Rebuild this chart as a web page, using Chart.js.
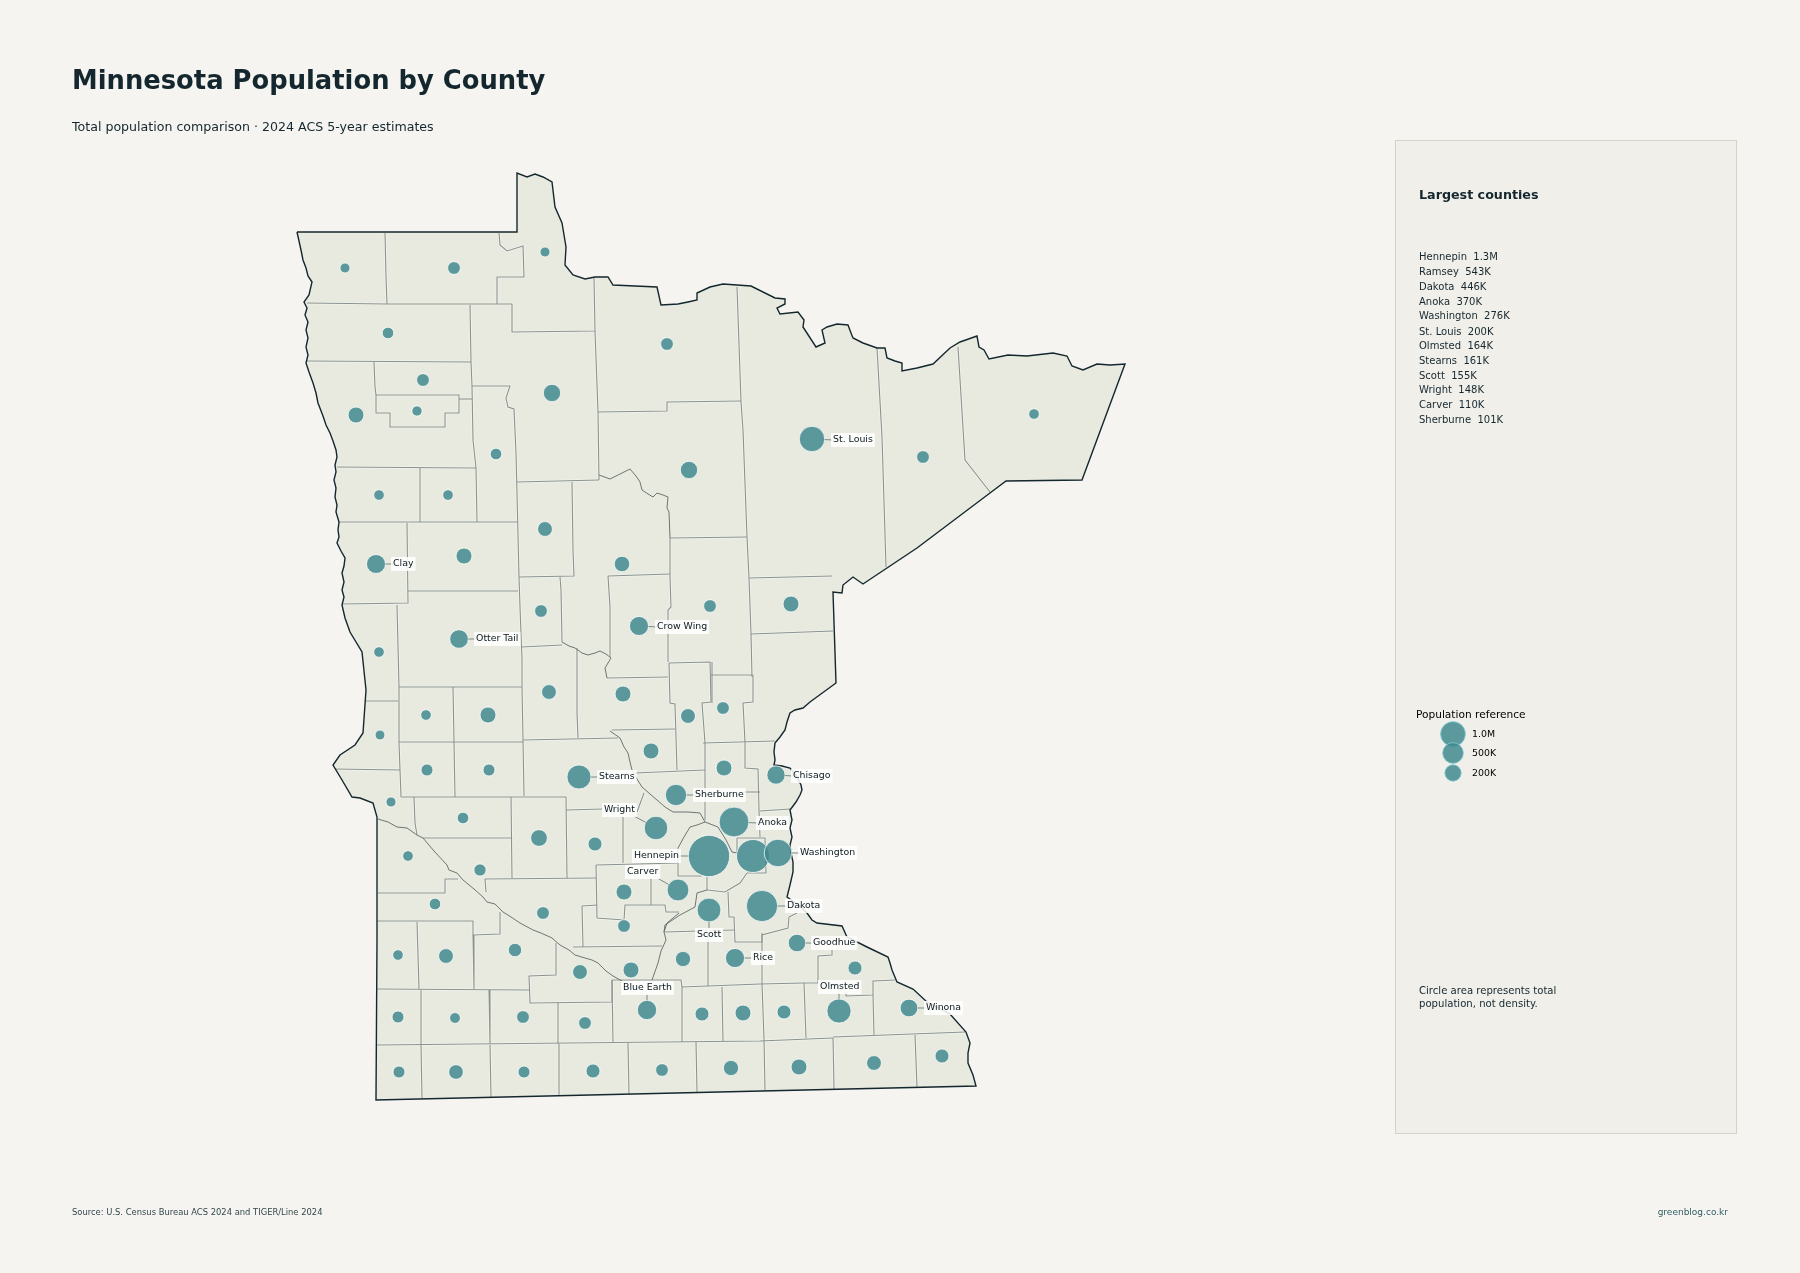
<!DOCTYPE html>
<html>
<head>
<meta charset="utf-8">
<title>Minnesota Population by County</title>
<script src="https://cdn.jsdelivr.net/npm/chart.js@4"></script>
<style>
  html,body{margin:0;padding:0;background:#f5f4f0;}
  body{width:1800px;height:1273px;position:relative;overflow:hidden;font-family:"DejaVu Sans",sans-serif;color:#14272e;}
  canvas{position:absolute;left:0;top:0;z-index:2;}
  .t{position:absolute;white-space:pre;line-height:1;z-index:3;}
  #panel{position:absolute;left:1395px;top:140px;width:340px;height:992px;background:#f1efea;border:1px solid #d3d3c9;z-index:1;}
</style>
</head>
<body>
<div id="panel"></div>
<div class="t" style="left:72px;top:68px;font-size:25.8px;font-weight:bold;">Minnesota Population by County</div>
<div class="t" style="left:72px;top:120.5px;font-size:12.6px;">Total population comparison · 2024 ACS 5-year estimates</div>
<div class="t" style="left:1419px;top:188.5px;font-size:12.7px;font-weight:bold;">Largest counties</div>
<div id="list"></div>
<div class="t" style="left:1416px;top:708.5px;font-size:10.6px;color:#000;">Population reference</div>
<div class="t" style="left:1419px;top:986px;font-size:10.1px;">Circle area represents total</div>
<div class="t" style="left:1419px;top:999px;font-size:10.1px;">population, not density.</div>
<div class="t" style="left:72px;top:1208px;font-size:8.4px;color:#33474d;">Source: U.S. Census Bureau ACS 2024 and TIGER/Line 2024</div>
<div class="t" style="right:72px;top:1208px;font-size:9px;color:#2f5f66;">greenblog.co.kr</div>
<canvas id="map" width="1800" height="1273"></canvas>
<script>
// state border, map units
var stateBorder=[[297,232],[517,232],[517,173],[527,177],[535,174],[543,177],[552,182],[555,207],[562,223],[566,247],[565,265],[573,275],[585,279],[595,277],[608,277],[613,285],[635,286],[657,287],[661,305],[678,304],[688,302],[697,300],[697,293],[710,287],[723,284],[751,286],[775,298],[785,299],[785,304],[777,308],[780,314],[798,312],[804,320],[803,327],[816,347],[825,343],[822,330],[827,327],[837,324],[848,325],[851,333],[853,338],[863,343],[877,348],[885,348],[887,358],[895,361],[902,363],[902,371],[917,368],[933,364],[950,348],[960,342],[977,336],[979,347],[984,350],[989,359],[1008,355],[1027,356],[1053,353],[1067,356],[1072,366],[1083,370],[1097,364],[1110,365],[1125,364],[1082,480],[1006,481],[990,493],[917,548],[863,584],[853,577],[843,585],[842,593],[833,592],[836,683],[810,702],[803,708],[795,710],[790,713],[787,722],[785,730],[780,737],[775,743],[774,752],[775,760],[774,765],[782,766],[790,768],[796,775],[801,785],[802,790],[800,795],[796,802],[790,810],[792,820],[790,828],[792,837],[790,845],[791,853],[793,862],[793,872],[790,885],[787,897],[800,906],[807,913],[812,920],[817,923],[842,926],[847,937],[867,947],[888,957],[890,963],[892,970],[897,982],[913,989],[927,1002],[950,1014],[966,1032],[970,1043],[968,1053],[968,1063],[973,1075],[976,1086],[376,1100],[377,940],[377,817],[373,803],[360,798],[352,797],[342,780],[333,765],[340,755],[355,745],[363,733],[366,690],[362,652],[350,632],[345,618],[342,605],[344,597],[342,590],[344,582],[342,573],[344,566],[345,558],[341,551],[337,543],[339,537],[338,530],[339,522],[336,512],[337,505],[335,497],[336,488],[334,480],[336,472],[335,465],[337,457],[336,450],[333,441],[330,433],[326,425],[323,416],[318,403],[316,393],[313,383],[309,372],[306,363],[308,355],[306,347],[308,338],[306,330],[308,322],[305,315],[307,308],[304,302],[309,295],[312,282],[308,276],[306,268],[303,260],[301,250],[299,241],[297,232]];

// county lines, map units
var countyLines=[
[[385,233],[386,277],[387,304]],
[[307,303],[387,304],[497,304],[512,304]],
[[499,233],[500,245],[507,251],[523,246],[524,277],[497,277],[497,304]],
[[512,304],[512,332],[595,331],[594,278]],
[[595,331],[598,412],[599,480]],
[[470,305],[471,362],[472,386],[473,440],[476,468],[477,522]],
[[307,361],[471,362]],
[[374,362],[375,387],[376,395],[376,413],[390,413],[390,427],[445,427],[445,413],[459,413],[459,395],[376,395]],
[[459,399],[472,399]],
[[472,386],[510,386],[506,398],[508,407],[514,409],[516,453],[517,493],[519,577],[520,607],[522,660],[522,687],[523,740],[524,796]],
[[337,467],[476,468]],
[[420,468],[420,522]],
[[339,522],[517,522]],
[[407,523],[408,603],[342,604]],
[[408,591],[518,591]],
[[517,482],[599,480]],
[[572,482],[573,550],[574,576],[519,577]],
[[560,577],[561,590],[562,642]],
[[608,576],[670,574]],
[[608,576],[610,607],[610,657]],
[[521,647],[562,645]],
[[607,678],[668,677]],
[[669,663],[710,662],[711,702],[702,703],[705,743],[705,820]],
[[669,663],[670,703],[675,704],[677,770]],
[[612,730],[675,729]],
[[523,740],[618,738]],
[[577,648],[577,713],[578,738]],
[[635,773],[705,770]],
[[703,743],[775,741]],
[[397,605],[399,687],[399,743],[401,797]],
[[399,687],[522,687]],
[[453,687],[455,797]],
[[399,742],[523,742]],
[[365,701],[398,701]],
[[335,769],[400,770]],
[[401,797],[566,797]],
[[414,797],[415,823],[417,835]],
[[423,838],[512,838]],
[[511,797],[512,878]],
[[566,797],[567,878]],
[[566,810],[603,809]],
[[623,817],[623,863]],
[[644,793],[637,812]],
[[596,865],[678,863]],
[[678,848],[678,876],[702,876]],
[[485,879],[596,878]],
[[485,879],[486,892]],
[[596,865],[597,918],[624,920],[625,905],[665,905],[666,912],[679,912]],
[[651,878],[651,905]],
[[582,906],[597,905]],
[[582,906],[583,947]],
[[707,877],[707,890]],
[[707,890],[725,892],[740,883],[747,873]],
[[728,892],[729,917],[734,917],[735,942],[762,942],[762,935],[788,928],[789,917],[797,913]],
[[665,932],[734,930]],
[[708,932],[708,986]],
[[737,838],[765,838],[766,873],[747,873]],
[[737,838],[737,853]],
[[745,742],[745,768],[758,769],[759,810],[760,837]],
[[743,792],[760,792]],
[[760,811],[790,809]],
[[712,662],[712,703]],
[[753,675],[753,702],[743,703],[745,742]],
[[711,675],[753,675]],
[[749,578],[751,634],[752,677]],
[[751,634],[833,631]],
[[749,578],[832,576]],
[[737,287],[741,402],[743,430],[747,537],[749,578]],
[[598,412],[667,411],[667,402],[741,401]],
[[670,538],[670,577],[671,607],[668,610],[668,662]],
[[670,538],[747,537]],
[[877,348],[882,437],[886,567]],
[[958,347],[965,460],[990,492]],
[[378,893],[445,893],[445,879],[458,879]],
[[377,921],[473,921],[473,935],[500,934],[500,912]],
[[417,922],[419,989]],
[[473,935],[474,989]],
[[377,989],[529,990]],
[[556,943],[556,975],[529,976],[530,1003],[612,1002],[612,980]],
[[573,947],[662,946]],
[[612,980],[652,980],[681,980],[682,987],[760,984],[804,983]],
[[612,980],[613,1043]],
[[682,987],[682,1042]],
[[722,987],[723,1041]],
[[421,990],[421,1044]],
[[489,990],[490,1044]],
[[558,1003],[558,1044]],
[[377,1045],[760,1041],[833,1038]],
[[421,1045],[422,1098]],
[[490,1045],[491,1097]],
[[559,1044],[559,1095]],
[[628,1043],[629,1094]],
[[696,1042],[697,1092]],
[[764,1039],[765,1091]],
[[833,1038],[834,1089]],
[[762,933],[762,984],[764,1039]],
[[804,983],[806,1038]],
[[804,983],[818,983],[818,956],[832,955],[832,950]],
[[846,992],[846,996],[873,995],[873,981],[895,980]],
[[873,995],[874,1035]],
[[833,1037],[965,1032]],
[[915,1035],[917,1087]]
];

// river county lines, thinner and darker
var riverLines=[
[[599,475],[610,479],[620,474],[630,469],[636,476],[640,482],[642,490],[648,494],[653,497],[657,493],[663,495],[668,497],[667,508],[669,512],[670,538]],
[[562,642],[569,646],[575,648],[582,653],[588,655],[595,653],[600,651],[606,654],[611,658],[605,668],[607,678]],
[[610,731],[620,738],[624,747],[628,753],[630,762],[632,770],[637,779],[642,787],[650,794],[657,800],[665,807],[673,812],[688,812],[700,813],[705,822],[718,827],[726,840],[732,852],[737,853]],
[[678,848],[684,837],[690,827],[697,825],[705,822]],
[[378,819],[388,822],[397,827],[407,828],[417,835],[423,838],[434,851],[447,865],[449,870],[457,873],[463,880],[474,889],[483,897],[487,902],[495,904],[503,912],[511,917],[520,923],[533,930],[541,933],[552,938],[560,945],[569,950],[575,955],[585,958],[592,960],[598,963],[606,971],[613,976],[622,981]],
[[679,913],[667,923],[664,932],[666,940],[661,951],[658,963],[652,980]],
[[707,890],[697,893],[695,907],[680,915],[665,925],[664,932]]
];

// county centres, map units, and population estimates
var countyX=[345,454,545,388,423,417,356,552,667,496,689,379,448,545,622,464,710,923,1034,791,541,379,549,623,688,723,426,488,380,651,427,489,391,463,539,595,408,480,435,543,624,624,724,683,515,446,398,580,631,398,455,523,585,702,743,399,456,524,593,662,731,855,784,799,874,942];
var countyY=[268,268,252,333,380,411,415,393,344,454,470,495,495,529,564,556,606,457,414,604,611,652,692,694,716,708,715,715,735,751,770,770,802,818,838,844,856,870,904,913,892,926,768,959,950,956,955,972,970,1017,1018,1017,1023,1014,1013,1072,1072,1072,1071,1070,1068,968,1012,1067,1063,1056];
var countyPop=[5500,14000,5500,9800,14000,6000,33000,46000,14000,9800,46000,6900,6900,25000,30000,33000,14000,14000,6900,33000,14000,6900,25000,33000,25000,14000,6900,33000,5200,33000,11000,11000,5500,9800,40000,20000,6900,12000,9800,14000,33000,14000,33000,28000,17000,25000,6900,25000,33000,11000,7500,14000,14000,20000,33000,11000,24000,11000,20000,14000,28000,20000,20000,33000,25000,20000];

// labelled counties, drawn last
var namedCounties=['St. Louis','Clay','Otter Tail','Crow Wing','Stearns','Sherburne','Chisago','Wright','Carver','Anoka','Hennepin','Ramsey','Washington','Dakota','Scott','Goodhue','Rice','Blue Earth','Olmsted','Winona'];
var namedX=[812,376,459,639,579,676,776,656,678,734,709,753,778,762,709,797,735,647,839,909];
var namedY=[439,564,639,626,777,795,775,828,890,822,856,856,853,906,910,943,958,1010,1011,1008];
var namedPop=[200000,65000,60000,66000,161000,101000,57000,148000,110000,370000,1300000,543000,276000,446000,155000,48000,67000,70000,164000,50000];

// largest counties panel
var topNames=['Hennepin','Ramsey','Dakota','Anoka','Washington','St. Louis','Olmsted','Stearns','Scott','Wright','Carver','Sherburne'];
var topValues=['1.3M','543K','446K','370K','276K','200K','164K','161K','155K','148K','110K','101K'];

// population reference
var refLabels=['1.0M','500K','200K'];
var refPop=[1000000,500000,200000];
var refX=[1453,1453,1453];
var refY=[734,753,773];

// label placement: left edge and middle of the text
var labelAt={
  'St. Louis':[833,440],'Clay':[393,564],'Otter Tail':[476,639],'Crow Wing':[657,627],'Stearns':[599,777],
  'Sherburne':[695,795],'Chisago':[793,776],'Wright':[604,810],'Carver':[627,872],'Anoka':[758,823],
  'Hennepin':[634,856],'Washington':[800,853],'Dakota':[787,906],'Scott':[697,935],'Goodhue':[813,943],
  'Rice':[753,958],'Blue Earth':[623,988],'Olmsted':[820,987],'Winona':[926,1008]
};

function radius(p){ return 20.7*Math.pow(p/1300000,0.26); }
function pts(a){ return a.map(function(q){ return {x:q[0],y:q[1]}; }); }

var list=document.getElementById('list');
var listTop=[252,266.5,282,297,311,326.5,341,356,371,385,400,415];
topNames.forEach(function(n,i){
  var d=document.createElement('div');
  d.className='t';
  d.style.cssText='left:1419px;top:'+listTop[i]+'px;font-size:10px;';
  d.textContent=n+'  '+topValues[i];
  list.appendChild(d);
});

var datasets=[];
datasets.push({type:'scatter',showLine:true,data:pts(stateBorder),fill:'shape',backgroundColor:'#e8eadf',borderWidth:0,pointRadius:0,order:20});
countyLines.forEach(function(l){
  datasets.push({type:'scatter',showLine:true,data:pts(l),borderColor:'rgba(255,255,255,0.45)',borderWidth:2.6,pointRadius:0,order:12});
  datasets.push({type:'scatter',showLine:true,data:pts(l),borderColor:'#8a938e',borderWidth:1.1,pointRadius:0,order:10});
});
riverLines.forEach(function(l){
  datasets.push({type:'scatter',showLine:true,data:pts(l),borderColor:'#5f6967',borderWidth:0.9,pointRadius:0,order:9});
});
datasets.push({type:'scatter',showLine:true,data:pts(stateBorder),borderColor:'#14272e',borderWidth:1.4,pointRadius:0,order:5});
datasets.push({type:'bubble',data:countyX.map(function(x,i){ return {x:x,y:countyY[i],r:radius(countyPop[i])}; }),
  backgroundColor:'rgba(62,136,142,0.84)',borderColor:'rgba(255,255,255,0.75)',borderWidth:1,order:2});
datasets.push({type:'bubble',data:namedX.map(function(x,i){ return {x:x,y:namedY[i],r:radius(namedPop[i])}; }),
  backgroundColor:'rgba(62,136,142,0.84)',borderColor:'rgba(255,255,255,0.75)',borderWidth:1,order:1});
datasets.push({type:'bubble',data:refX.map(function(x,i){ return {x:x,y:refY[i],r:radius(refPop[i])*0.64}; }),
  backgroundColor:'rgba(62,136,142,0.84)',borderColor:'rgba(120,200,205,0.8)',borderWidth:1,order:1});

// callouts and reference labels
var calloutPlugin={
  id:'callouts',
  afterDraw:function(chart){
    var ctx=chart.ctx, sx=chart.scales.x, sy=chart.scales.y;
    ctx.save();
    ctx.font='9.4px "DejaVu Sans"';
    ctx.textBaseline='middle';
    namedCounties.forEach(function(n,i){
      var at=labelAt[n]; if(!at) return;
      var cx=sx.getPixelForValue(namedX[i]), cy=sy.getPixelForValue(namedY[i]);
      var lx=sx.getPixelForValue(at[0]), ly=sy.getPixelForValue(at[1]);
      var w=ctx.measureText(n).width;
      // leader goes to the nearest side of the box
      var ex,ey;
      if(cx<lx){ ex=lx; ey=ly; }
      else if(cx>lx+w){ ex=lx+w; ey=ly; }
      else { ex=cx; ey=cy<ly?ly-6:ly+6; }
      if(n==='Wright'){ ex=lx+w-1; ey=ly+6; }
      if(n==='Carver'){ ex=lx+w-1; ey=ly+6; }
      var d=Math.sqrt((ex-cx)*(ex-cx)+(ey-cy)*(ey-cy))||1, r=radius(namedPop[i]);
      ctx.strokeStyle='#7c8784'; ctx.lineWidth=1;
      ctx.beginPath(); ctx.moveTo(cx+(ex-cx)*r/d,cy+(ey-cy)*r/d); ctx.lineTo(ex,ey); ctx.stroke();
      ctx.fillStyle='rgba(255,255,255,0.85)';
      ctx.fillRect(lx-2,ly-7,w+4,14);
      ctx.fillStyle='#0b1a1f';
      ctx.fillText(n,lx,ly);
    });
    ctx.fillStyle='#000';
    refLabels.forEach(function(t,i){
      ctx.fillText(t,sx.getPixelForValue(1472),sy.getPixelForValue(refY[i])+1);
    });
    ctx.restore();
  }
};

new Chart('map',{
  data:{datasets:datasets},
  plugins:[calloutPlugin],
  options:{
    responsive:false,
    animation:false,
    events:[],
    layout:{padding:0,autoPadding:false},
    plugins:{legend:{display:false},tooltip:{enabled:false}},
    scales:{
      x:{type:'linear',display:false,min:0,max:1800},
      y:{type:'linear',display:false,min:0,max:1273,reverse:true}
    }
  }
});
</script>
</body>
</html>
